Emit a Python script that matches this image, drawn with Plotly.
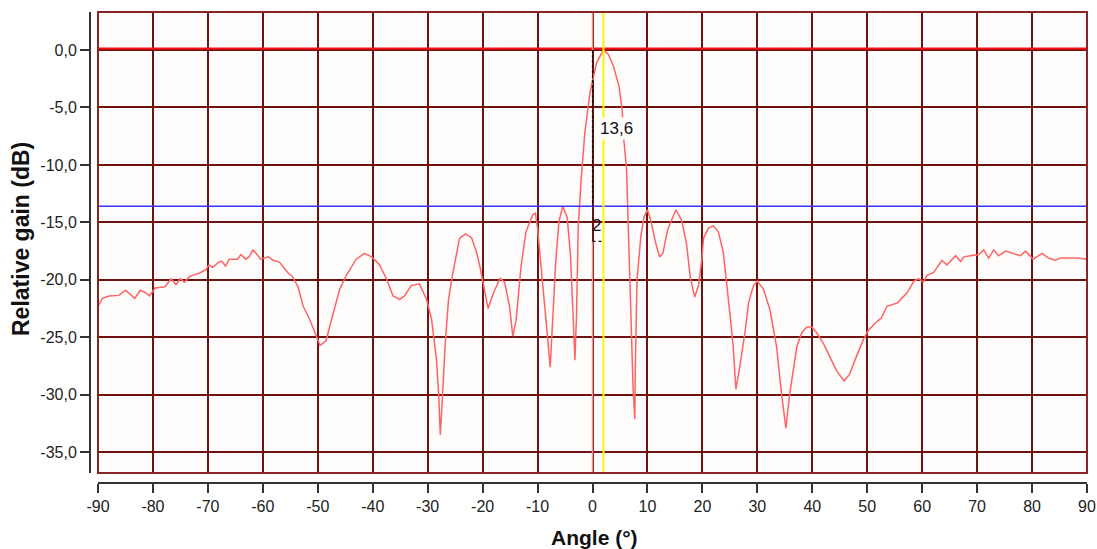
import plotly.graph_objects as go

# ---- data ----
angle = [-90, -89.2, -88, -86.2, -85, -84.1, -83.3, -82.3, -81.4, -80.6, -79.6, -77.8, -76.7, -75.8,
         -75, -74.3, -73.3, -71.5, -70.3, -69.8, -69.1, -67.9, -67.4, -66.8, -66.1, -64.6, -64, -63.1,
         -62.5, -61.8, -61.2, -60.4, -59, -58.1, -57, -55.4, -54.6, -53.6, -52.7, -51.5, -50.3, -49.6,
         -49.0, -48.5, -47.3, -46, -44.8, -43, -41.5, -40.2, -38.75, -37.5, -36.3, -35.1, -34.2, -33,
         -31.5, -30.2, -29.3, -28.4, -28.0, -27.7, -27.4, -26.8, -26.2, -25.5, -24.2, -23.1, -22, -21.1,
         -20.5, -20, -19, -18, -16.8, -16, -15.1, -14.5, -13.9, -13, -12.1, -10.9, -10.4, -10, -9.1,
         -8.2, -7.7, -7.3, -6.7, -6.1, -5.4, -4.6, -4, -3.5, -3.2, -2.9, -2.6, -2.1, -1.4, -0.45, 0.75,
         2, 2.9, 3.8, 4.8, 5.4, 5.7, 6.2, 6.4, 6.6, 6.9, 7.2, 7.4, 7.7, 7.8, 8.1, 8.8, 9.4, 10, 10.6,
         11.5, 12.2, 12.8, 13.7, 15.2, 16.2, 17.1, 17.8, 18.6, 19.3, 19.9, 20.2, 21.1, 22, 22.9, 23.8,
         24.4, 25, 25.6, 26.1, 26.8, 27.8, 28.4, 29.3, 30, 31.1, 32.3, 33.5, 34.4, 35.2, 35.9, 37.2,
         38.1, 39, 39.9, 40.8, 42, 43.2, 44.4, 45.8, 46.8, 48, 49.3, 50.2, 51.4, 52.6, 53.6, 55.5, 57.3,
         58.5, 59.4, 60.2, 60.9, 62.1, 63.6, 64.5, 66.1, 67, 67.6, 68.8, 70.3, 71.2, 72.1, 73, 73.9,
         75.2, 76.7, 77.9, 78.8, 80.2, 81.8, 83, 84.2, 85.2, 88.2, 90]
gain = [-22.3, -21.6, -21.4, -21.35, -20.9, -21.3, -21.6, -20.9, -21.1, -21.4, -20.7, -20.6, -19.9, -20.4,
        -19.9, -20.2, -19.7, -19.4, -19.1, -18.7, -18.9, -18.4, -18.4, -18.8, -18.2, -18.2, -17.8, -18.2,
        -18.0, -17.4, -17.7, -18.2, -18.0, -18.3, -18.45, -19.4, -19.7, -20.6, -22.25, -23.4, -24.9, -25.7,
        -25.5, -25.3, -23.1, -20.8, -19.6, -18.2, -17.7, -18.0, -18.7, -19.9, -21.4, -21.7, -21.4, -20.5,
        -20.35, -21.7, -23.4, -26.9, -29.9, -33.5, -31.0, -25.5, -21.7, -19.6, -16.4, -16.0, -16.35, -17.6,
        -18.8, -20.1, -22.5, -21.1, -19.85, -20.2, -22.3, -24.9, -23.5, -18.8, -15.8, -14.35, -14.2, -15.5, -19.9,
        -24.9, -27.6, -24.1, -18.5, -14.9, -13.6, -14.6, -17.9, -23.5, -27.0, -22.9, -15.5, -11.5, -7.2, -3.7, -1.1,
        0.0, -0.4, -1.4, -3.1, -5.2, -7.8, -10.4, -13.6, -15.6, -20.0, -24.4, -29.6, -32.1, -27.3, -20.0, -16.2, -14.5, -13.9, -14.8,
        -16.8, -18.0, -17.7, -15.6, -13.9, -14.8, -16.8, -19.8, -21.5, -20.5, -18.2, -16.4, -15.5, -15.3, -15.8, -17.6,
        -20.0, -22.9, -25.8, -29.5, -27.6, -24.4, -22.0, -20.5, -20.1, -20.8, -22.6, -25.8, -29.9, -32.9, -29.9, -25.8,
        -24.6, -24.1, -24.1, -24.6, -25.5, -26.7, -27.9, -28.8, -28.2, -26.7, -25.2, -24.4, -23.8, -23.3, -22.3, -22.0, -21.1,
        -20.1, -19.9, -20.2, -19.6, -19.35, -18.3, -18.7, -17.9, -18.4, -18.0, -17.9, -17.8, -17.4, -18.1, -17.4, -17.9,
        -17.5, -17.7, -17.9, -17.5, -18.2, -17.7, -18.1, -18.3, -18.1, -18.1, -18.2]

x_ticks = [-90, -80, -70, -60, -50, -40, -30, -20, -10, 0, 10, 20, 30, 40, 50, 60, 70, 80, 90]
y_ticks = [0, -5, -10, -15, -20, -25, -30, -35]
y_tick_text = ["0,0", "-5,0", "-10,0", "-15,0", "-20,0", "-25,0", "-30,0", "-35,0"]

max_level = 0.12        # red reference line (peak)
sll_level = -13.6       # blue side-lobe level line
sll_text = "13,6"
peak_angle = 2          # yellow line
ref_angle = 0           # pink line
offset_text = "2"
dim_level = -16.65      # small dimension line under "2"

x_range = [-90, 90]
y_range = [-36.8, 3.3]

# ---- layout geometry (pixels) ----
W, H = 1097, 549
ml, mr, mt, mb = 90, 10, 12, 66
pw, ph = W - ml - mr, H - mt - mb
gap_x, gap_y = 8, 10

grid_col = "#701212"
FONT = "Liberation Sans, Arial, sans-serif"
tick_font = dict(family=FONT, size=16, color="#222222")
plot_bg = "#fffcfc"

fig = go.Figure()

fig.add_trace(go.Scatter(x=angle, y=gain, mode="lines",
                         line=dict(color="#ff6464", width=1.5), hoverinfo="skip", showlegend=False))

shapes = []
# red max line
shapes.append(dict(type="line", xref="x", yref="y", x0=x_range[0], x1=x_range[1], y0=max_level, y1=max_level,
                   line=dict(color="#ff1010", width=2), layer="above"))
# blue line
shapes.append(dict(type="line", xref="x", yref="y", x0=x_range[0], x1=x_range[1], y0=sll_level, y1=sll_level,
                   line=dict(color="#3434ff", width=1.6), layer="above"))
# pink vertical line (interrupted by the dimension marks)
shapes.append(dict(type="line", xref="x", yref="y", x0=ref_angle, x1=ref_angle, y0=y_range[1], y1=0,
                   line=dict(color="#ff8c8c", width=1.5), layer="above"))
shapes.append(dict(type="line", xref="x", yref="y", x0=ref_angle, x1=ref_angle, y0=dim_level, y1=y_range[0],
                   line=dict(color="#ff8c8c", width=1.5), layer="above"))
# yellow vertical line
shapes.append(dict(type="line", xref="x", yref="y", x0=peak_angle, x1=peak_angle, y0=y_range[0], y1=y_range[1],
                   line=dict(color="#f8f800", width=2), layer="above"))
# black dashed dimension lines
shapes.append(dict(type="line", xref="x", yref="y", x0=ref_angle, x1=ref_angle, y0=0, y1=sll_level,
                   line=dict(color="#111111", width=1.2, dash="3px,2px"), layer="above"))
shapes.append(dict(type="line", xref="x", yref="y", x0=ref_angle, x1=peak_angle, y0=dim_level, y1=dim_level,
                   line=dict(color="#111111", width=1.2, dash="3px,3px"), layer="above"))
# plot border
shapes.append(dict(type="rect", xref="x domain", yref="y domain", x0=0, x1=1, y0=0, y1=1,
                   line=dict(color="#8a2424", width=2), layer="above"))

annotations = [
    dict(text=sll_text, x=4.3, y=-6.8, xref="x", yref="y", showarrow=False,
         font=dict(family=FONT, size=17, color="#111111"),
         bgcolor=plot_bg, borderpad=1),
    dict(text=offset_text, x=0.8, y=-15.3, xref="x", yref="y", showarrow=False,
         font=dict(family=FONT, size=17, color="#111111"),
         bgcolor="rgba(0,0,0,0)", borderpad=0),
    dict(text="<b>Relative gain (dB)</b>", textangle=-90, xref="paper", yref="paper",
         x=(21 - ml) / pw, y=(H - mb - 239) / ph, xanchor="center", yanchor="middle", showarrow=False,
         font=dict(family=FONT, size=23, color="#111111")),
    dict(text="<b>Angle (°)</b>", xref="paper", yref="paper",
         x=(594 - ml) / pw, y=(H - mb - 524) / ph, xanchor="center", yanchor="top", showarrow=False,
         font=dict(family=FONT, size=21, color="#111111")),
]

fig.update_layout(
    template="none",
    width=W, height=H,
    margin=dict(l=ml, r=mr, t=mt, b=mb, pad=0, autoexpand=False),
    paper_bgcolor="#ffffff", plot_bgcolor=plot_bg,
    showlegend=False,
    shapes=shapes, annotations=annotations,
    xaxis=dict(range=x_range, domain=[gap_x / pw, 1], anchor="free", position=0, automargin=False,
               tickvals=x_ticks, ticktext=[str(v) for v in x_ticks],
               showgrid=True, gridcolor=grid_col, gridwidth=2, zeroline=False,
               showline=True, linecolor="#333333", linewidth=2,
               ticks="outside", ticklen=9, tickwidth=2, tickcolor="#333333",
               tickfont=tick_font, fixedrange=True),
    yaxis=dict(range=y_range, domain=[gap_y / ph, 1], anchor="free", position=0, automargin=False,
               tickvals=y_ticks, ticktext=y_tick_text,
               showgrid=True, gridcolor=grid_col, gridwidth=2, zeroline=False,
               showline=True, linecolor="#333333", linewidth=2,
               ticks="outside", ticklen=9, tickwidth=2, tickcolor="#333333",
               tickfont=tick_font, fixedrange=True),
)

fig.write_html("out.html", config={"displayModeBar": False},
               post_script="document.body.style.margin='0';")
